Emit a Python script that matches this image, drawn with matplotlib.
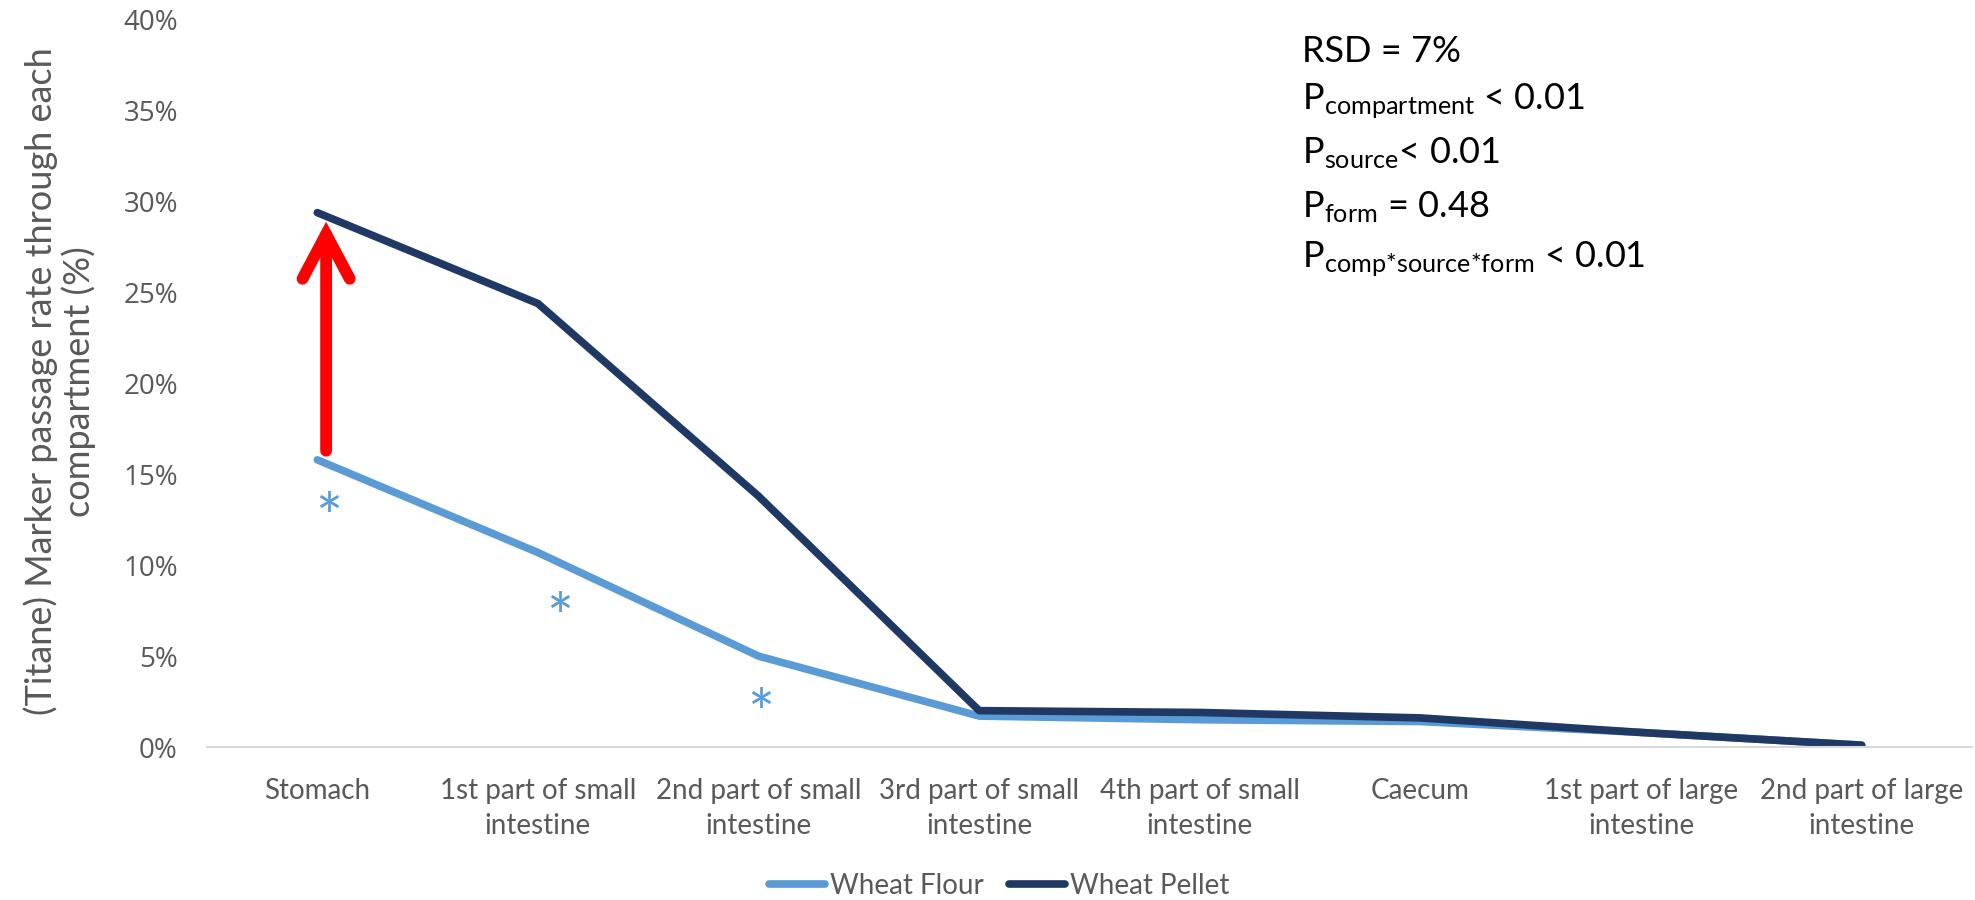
import numpy as np
import matplotlib
matplotlib.use('Agg')
import matplotlib.pyplot as plt
from matplotlib.ticker import PercentFormatter

plt.rcParams['font.family'] = ['Lato', 'DejaVu Sans']
plt.rcParams['mathtext.fontset'] = 'custom'
plt.rcParams['mathtext.rm'] = 'Lato'
plt.rcParams['mathtext.it'] = 'Lato:italic'

# data (passage rate, fraction)
compartments = ['Stomach', '1st part of small\nintestine', '2nd part of small\nintestine',
                '3rd part of small\nintestine', '4th part of small\nintestine', 'Caecum',
                '1st part of large\nintestine', '2nd part of large\nintestine']
wheat_flour = [0.158, 0.107, 0.050, 0.017, 0.015, 0.014, 0.008, 0.001]
wheat_pellet = [0.294, 0.244, 0.138, 0.020, 0.019, 0.016, 0.008, 0.001]

# significance stars (category index, y)
star_x = [0.05, 1.10, 2.01]
star_y = [0.135, 0.080, 0.027]

stats_lines = [r'RSD = 7%',
               r'P$_{\mathrm{compartment}}$ < 0.01',
               r'P$_{\mathrm{source}}$< 0.01',
               r'P$_{\mathrm{form}}$ = 0.48',
               r'P$_{\mathrm{comp{*}source{*}form}}$ < 0.01']

light = '#5B9BD5'
dark = '#203864'
grey = '#595959'

fig = plt.figure(figsize=(19.75, 9), dpi=100)
ax = fig.add_axes([0.1048, 0.17, 0.8937, 0.8078])

x = np.arange(len(compartments))
ax.plot(x, wheat_flour, color=light, lw=5.5, solid_joinstyle='round',
        solid_capstyle='round', label='Wheat Flour')
ax.plot(x, wheat_pellet, color=dark, lw=5.5, solid_joinstyle='round',
        solid_capstyle='round', label='Wheat Pellet')

for sx, sy in zip(star_x, star_y):
    ax.text(sx, sy - 0.011, '*', color=light, fontsize=46, ha='center', va='center')

# red arrow from flour to pellet at stomach
ax.annotate('', xy=(0.04, 0.289), xytext=(0.04, 0.163),
            arrowprops=dict(arrowstyle='->,head_length=3.2,head_width=1.7',
                            lw=8.5, color='red', shrinkA=0, shrinkB=0,
                            mutation_scale=10, joinstyle='miter', capstyle='round'))

ax.set_xlim(-0.5, 7.5)
ax.set_ylim(0, 0.40)
ax.set_yticks(np.arange(0, 0.41, 0.05))
ax.yaxis.set_major_formatter(PercentFormatter(1.0, decimals=0))
ax.set_xticks(x)
ax.set_xticklabels(compartments, linespacing=1.45)
ax.tick_params(axis='y', length=0, pad=21, labelsize=20, labelcolor=grey)
ax.tick_params(axis='x', length=0, pad=22, labelsize=20, labelcolor=grey)
for lab in ax.get_yticklabels():
    lab.set_fontfamily(['Open Sans', 'DejaVu Sans'])

for s in ['top', 'right', 'left']:
    ax.spines[s].set_visible(False)
ax.spines['bottom'].set_color('#D9D9D9')
ax.spines['bottom'].set_linewidth(1.5)

fig.text(0.030, 0.576, '(Titane) Marker passage rate through each\ncompartment (%)',
         rotation=90, ha='center', va='center', fontsize=26, color=grey,
         linespacing=1.12)

ys = [0.931, 0.878, 0.819, 0.759, 0.703]
for txt, yy in zip(stats_lines, ys):
    fig.text(0.659, yy, txt, fontsize=26, color='black', va='baseline', ha='left')

fig.legend(loc='center', bbox_to_anchor=(0.506, 0.016), ncol=2, frameon=False,
           fontsize=20, handlelength=2.0, handletextpad=0.2, columnspacing=0.9,
           labelcolor=grey)

fig.savefig('out.png', dpi=100)
